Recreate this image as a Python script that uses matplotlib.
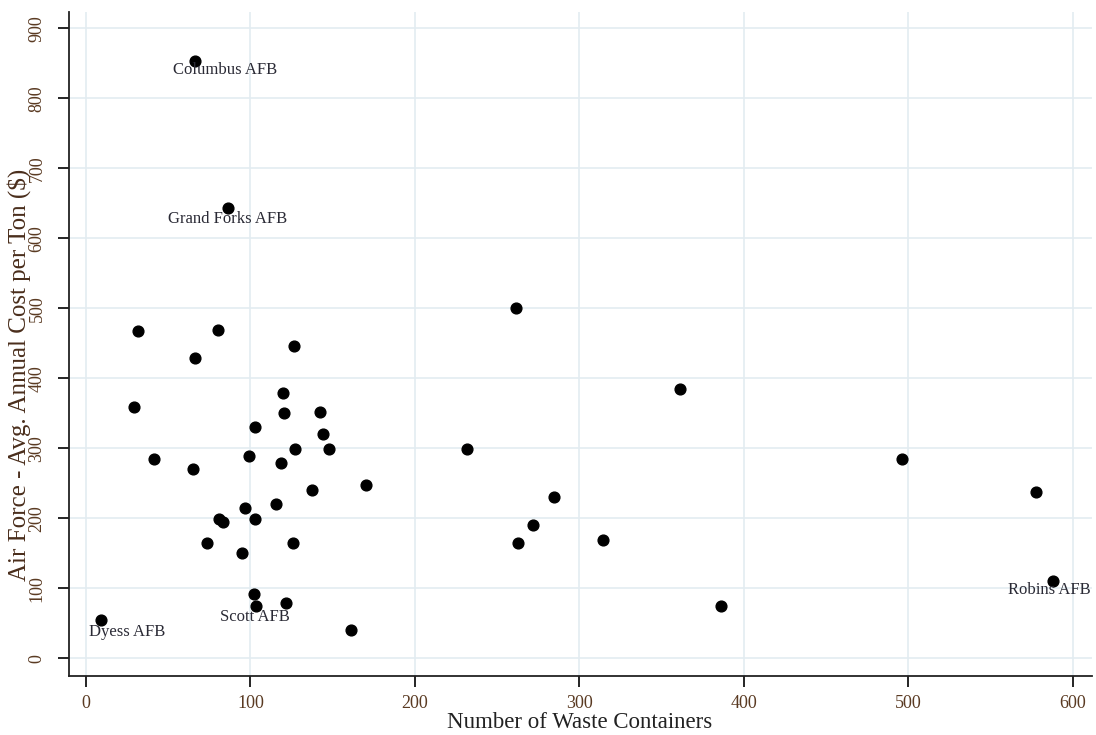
import matplotlib.pyplot as plt

plt.rcParams['font.family'] = ['Liberation Serif', 'DejaVu Serif']

# number of waste containers per base
containers = [66.3, 86.1, 261.5, 31.4, 80.4, 66.1, 126.6, 29.4, 361.4, 119.6,
              120.4, 142.2, 102.6, 144.3, 127.2, 147.5, 231.7, 41.5, 99.3, 495.8,
              118.4, 65.2, 170.2, 137.4, 577.5, 284.7, 115.5, 96.5, 80.7, 83.1,
              102.7, 271.9, 73.4, 125.7, 262.4, 314.5, 95.0, 102.3, 103.3, 121.6,
              9.1, 161.1, 386.2, 588.1]
# average annual cost per ton ($)
cost = [854, 644, 500, 468, 469, 429, 446, 359, 384, 379,
        351, 352, 330, 320, 299, 299, 299, 284, 289, 285,
        279, 270, 248, 240, 237, 230, 220, 214, 199, 194,
        199, 191, 164, 165, 164, 169, 151, 92, 75, 79,
        55, 41, 75, 110]

# labelled bases: (name, index into the arrays, offset in points)
labels = [("Columbus AFB", 0, (22, -7)),
          ("Grand Forks AFB", 1, (0, -8)),
          ("Scott AFB", 38, (-1, -8)),
          ("Dyess AFB", 40, (19, -9)),
          ("Robins AFB", 43, (-3, -6))]

fig = plt.figure(figsize=(10.96, 7.35), dpi=100)
ax = fig.add_axes([69 / 1096, 59 / 735, 1023 / 1096, 664 / 735])

ax.scatter(containers, cost, s=60, color='black', zorder=3)

for name, i, off in labels:
    ax.annotate(name, (containers[i], cost[i]), xytext=off, textcoords='offset points',
                ha='center', va='center', fontsize=12, color='#2a2a35')

ax.set_xlim(-10.3, 611.6)
ax.set_ylim(-25.3, 923.3)
ax.set_xticks(range(0, 601, 100))
ax.set_yticks(range(0, 901, 100))
ax.grid(True, color='#e3ecf1', linewidth=1.2, zorder=0)
ax.set_axisbelow(True)

for side in ['top', 'right']:
    ax.spines[side].set_visible(False)
for side in ['left', 'bottom']:
    ax.spines[side].set_linewidth(1.3)
    ax.spines[side].set_color('#222222')

ax.tick_params(axis='x', length=8, width=1.2, pad=6, labelsize=13, labelcolor='#5a3a22')
ax.tick_params(axis='y', length=8, width=1.2, pad=9, labelsize=13, labelcolor='#5a3a22')
for lab in ax.get_yticklabels():
    lab.set_rotation(90)
    lab.set_va('center')

fig.text(580 / 1096, 1 - 722 / 735, "Number of Waste Containers", ha='center', va='center',
         fontsize=16.5, color='#222222')
fig.text(19 / 1096, 1 - 375 / 735, "Air Force - Avg. Annual Cost per Ton ($)", ha='center',
         va='center', rotation=90, fontsize=18, color='#4a2e1c')

fig.savefig('out.png', dpi=100)
